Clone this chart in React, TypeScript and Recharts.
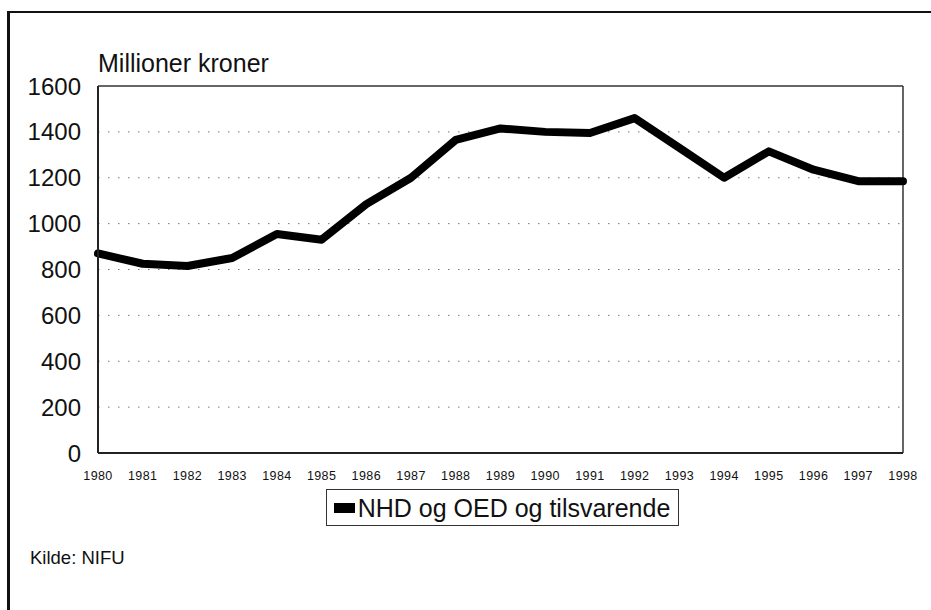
import React from 'react';
import {
  LineChart,
  Line,
  XAxis,
  YAxis,
  CartesianGrid,
  ReferenceLine,
  Legend,
} from 'recharts';

const years = [
  1980, 1981, 1982, 1983, 1984, 1985, 1986, 1987, 1988, 1989,
  1990, 1991, 1992, 1993, 1994, 1995, 1996, 1997, 1998,
];
const nhdOed = [
  870, 825, 815, 850, 955, 930, 1085, 1200, 1365, 1415,
  1400, 1395, 1460, 1330, 1200, 1315, 1235, 1185, 1185,
];
const yTicks = [0, 200, 400, 600, 800, 1000, 1200, 1400, 1600];
const seriesName = 'NHD og OED og tilsvarende';

const data = years.map((year, i) => ({ year, value: nhdOed[i] }));

const font = '"Liberation Sans", Arial, Helvetica, sans-serif';

const LegendBox = () => (
  <div style={{ display: 'flex', justifyContent: 'center' }}>
    <div
      style={{
        display: 'inline-flex',
        alignItems: 'center',
        boxSizing: 'border-box',
        height: 37,
        border: '1.5px solid #333',
        padding: '0 8px 0 7px',
        fontFamily: font,
        fontSize: 25,
        color: '#111',
        lineHeight: '34px',
      }}
    >
      <span style={{ display: 'inline-block', width: 21, height: 10, background: '#000', marginRight: 3 }} />
      {seriesName}
    </div>
  </div>
);

export default function App() {
  return (
    <div style={{ position: 'absolute', left: 0, top: 0, width: 931, height: 610, background: '#fff', overflow: 'hidden' }}>
      <div
        style={{
          position: 'absolute',
          left: 7,
          top: 11,
          width: 940,
          height: 620,
          borderTop: '2.5px solid #111',
          borderLeft: '3px solid #111',
        }}
      />
      <div
        style={{
          position: 'absolute',
          left: 98,
          top: 50,
          fontFamily: font,
          fontSize: 25,
          lineHeight: '26px',
          color: '#111',
        }}
      >
        Millioner kroner
      </div>
      <div
        style={{
          position: 'absolute',
          left: 30,
          top: 547,
          fontFamily: font,
          fontSize: 18.5,
          lineHeight: '22px',
          color: '#111',
        }}
      >
        Kilde: NIFU
      </div>
      <div style={{ position: 'absolute', left: 0, top: 0 }}>
        <LineChart
          width={931}
          height={610}
          data={data}
          margin={{ top: 86, right: 28, left: 38, bottom: 127 }}
        >
          <CartesianGrid
            horizontal
            vertical={false}
            stroke="#777"
            strokeDasharray="1.5 8.5"
            horizontalValues={[200, 400, 600, 800, 1000, 1200, 1400]}
          />
          <XAxis
            dataKey="year"
            type="number"
            domain={[1980, 1998]}
            ticks={years}
            interval={0}
            height={30}
            tickLine={false}
            axisLine={{ stroke: '#222', strokeWidth: 2 }}
            tick={{ fill: '#111', fontSize: 12.5, fontFamily: font, letterSpacing: 0.4 }}
            tickMargin={12}
          />
          <YAxis
            domain={[0, 1600]}
            ticks={yTicks}
            width={60}
            tickLine={false}
            axisLine={{ stroke: '#222', strokeWidth: 2 }}
            tick={{ fill: '#111', fontSize: 24, fontFamily: font }}
            tickMargin={11}
          />
          <ReferenceLine y={1600} stroke="#333" strokeWidth={1.5} />
          <ReferenceLine x={1998} stroke="#333" strokeWidth={1.5} />
          <Legend
            layout="horizontal"
            verticalAlign="middle"
            align="center"
            content={() => <LegendBox />}
            wrapperStyle={{ top: 489, left: 37, width: 931, height: 37 }}
          />
          <Line
            type="linear"
            dataKey="value"
            name={seriesName}
            stroke="#000"
            strokeWidth={8}
            strokeLinecap="round"
            strokeLinejoin="round"
            dot={false}
            activeDot={false}
            isAnimationActive={false}
          />
        </LineChart>
      </div>
    </div>
  );
}
